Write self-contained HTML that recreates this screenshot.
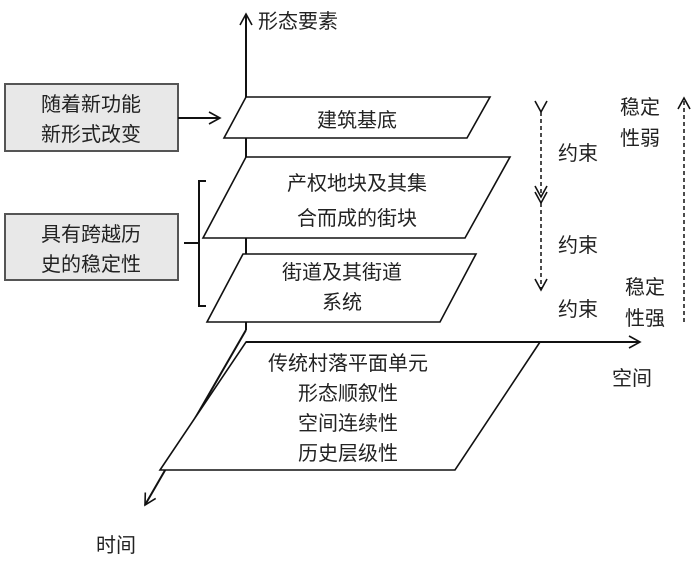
<!DOCTYPE html>
<html><head><meta charset="utf-8"><style>
body{margin:0;background:#fff;width:700px;height:561px;overflow:hidden}
text{font-family:"Liberation Sans","Noto Sans CJK SC",sans-serif;font-size:20px;fill:#222}
</style></head><body>
<svg width="700" height="561" viewBox="0 0 700 561" xmlns="http://www.w3.org/2000/svg">
<defs>
<marker id="a" markerWidth="14" markerHeight="14" refX="12" refY="7" orient="auto" markerUnits="userSpaceOnUse"><path d="M1,1 L12,7 L1,13" fill="none" stroke="#111" stroke-width="1.6"/></marker>
</defs>
<g stroke="#111" stroke-width="2" fill="none">
<line x1="246" y1="330" x2="246" y2="14" marker-end="url(#a)"/>
<line x1="246" y1="342" x2="640" y2="342" marker-end="url(#a)"/>
<line x1="246" y1="330" x2="145" y2="505" marker-end="url(#a)"/>
</g>
<g stroke="#111" stroke-width="1.6" fill="#fff">
<polygon points="246,97 490,97 467,138 224,138"/>
<polygon points="246,157 510,157 465,238 203,238"/>
<polygon points="243,254 476,254 440,322 207,322"/>
<polygon points="540,342 455,470 160,470 246,342" fill="#fff"/>
</g>
<line x1="246" y1="342" x2="640" y2="342" stroke="#111" stroke-width="2"/>
<rect x="5" y="84" width="173" height="67" fill="#e8e8e8" stroke="#555" stroke-width="2"/>
<rect x="5" y="214" width="173" height="66" fill="#e8e8e8" stroke="#555" stroke-width="2"/>
<line x1="178" y1="118" x2="220" y2="118" stroke="#111" stroke-width="2" marker-end="url(#a)"/>
<path d="M206,181 H199 V306 H206 M184,243 H199" fill="none" stroke="#111" stroke-width="2"/>
<g stroke="#111" stroke-width="1.5" stroke-dasharray="4,3" fill="none">
<line x1="541" y1="112" x2="541" y2="197" marker-end="url(#a)" marker-start="url(#a)"/>
<line x1="541" y1="203" x2="541" y2="290" marker-end="url(#a)" marker-start="url(#a)"/>
<line x1="684" y1="322" x2="684" y2="98" marker-end="url(#a)"/>
</g>
<text x="258" y="28">形态要素</text>
<text x="91" y="111" text-anchor="middle">随着新功能</text>
<text x="91" y="141" text-anchor="middle">新形式改变</text>
<text x="91" y="241" text-anchor="middle">具有跨越历</text>
<text x="91" y="271" text-anchor="middle">史的稳定性</text>
<text x="357" y="127" text-anchor="middle">建筑基底</text>
<text x="357" y="190" text-anchor="middle">产权地块及其集</text>
<text x="357" y="225" text-anchor="middle">合而成的街块</text>
<text x="342" y="279" text-anchor="middle">街道及其街道</text>
<text x="342" y="309" text-anchor="middle">系统</text>
<text x="348" y="370" text-anchor="middle">传统村落平面单元</text>
<text x="348" y="400" text-anchor="middle">形态顺叙性</text>
<text x="348" y="430" text-anchor="middle">空间连续性</text>
<text x="348" y="460" text-anchor="middle">历史层级性</text>
<text x="558" y="160">约束</text>
<text x="558" y="252">约束</text>
<text x="558" y="316">约束</text>
<text x="620" y="114">稳定</text>
<text x="620" y="145">性弱</text>
<text x="625" y="294">稳定</text>
<text x="625" y="325">性强</text>
<text x="612" y="385">空间</text>
<text x="96" y="552">时间</text>
</svg>
</body></html>
